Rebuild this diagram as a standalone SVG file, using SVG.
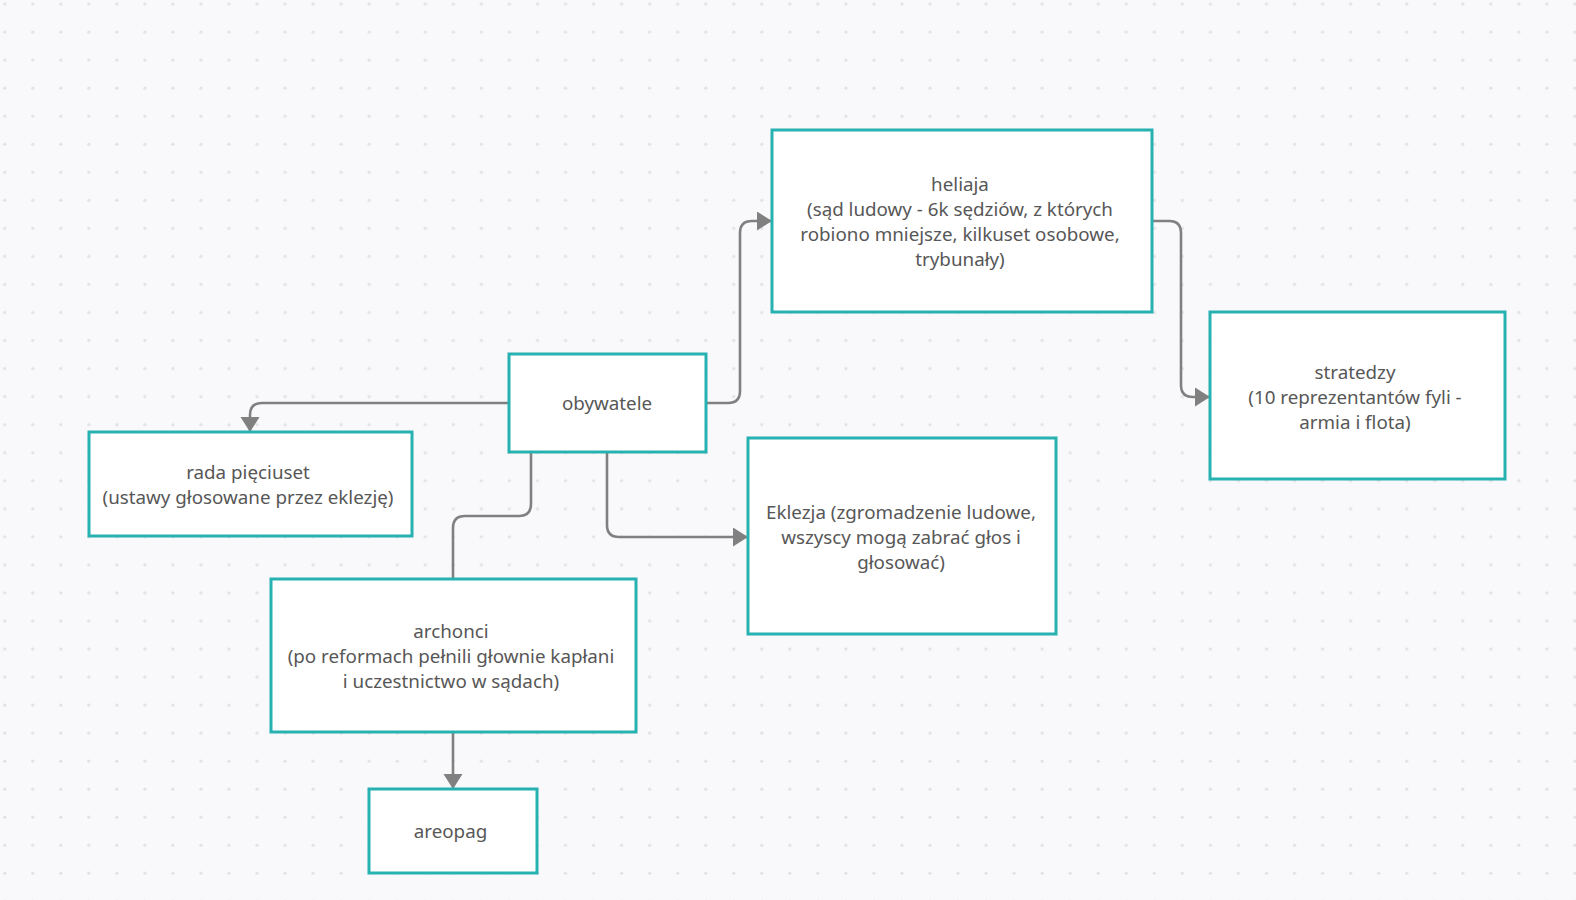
<svg xmlns="http://www.w3.org/2000/svg" width="1576" height="900" viewBox="0 0 1576 900">
<style>
.box{fill:#ffffff;stroke:#27b1b1;stroke-width:3}
.lbl{font-family:"Noto Sans","Open Sans","DejaVu Sans",sans-serif;font-size:18.8px;fill:#575757;text-anchor:middle}
.con{fill:none;stroke:#808080;stroke-width:2.6}
</style>
<defs>
<pattern id="dots" x="0" y="0" width="28.04" height="28.04" patternUnits="userSpaceOnUse">
<circle cx="4.7" cy="4" r="1.6" fill="#e1e2e7"/>
</pattern>
<marker id="arr" markerUnits="userSpaceOnUse" markerWidth="17" markerHeight="21" refX="15" refY="9.5" orient="auto">
<path d="M0,0 L15,9.5 L0,19 z" fill="#808080"/>
</marker>
</defs>
<rect width="1576" height="900" fill="#f9f9fb"/>
<rect width="1576" height="900" fill="url(#dots)"/>
<g id="connectors">
<path class="con" d="M509,403 H262 Q250,403 250,415 V432" marker-end="url(#arr)"/>
<path class="con" d="M706,403 H728 Q740,403 740,391 V233 Q740,221 752,221 H772" marker-end="url(#arr)"/>
<path class="con" d="M1152,221 H1169 Q1181,221 1181,233 V385 Q1181,397 1193,397 H1210" marker-end="url(#arr)"/>
<path class="con" d="M607,452 V525 Q607,537 619,537 H748" marker-end="url(#arr)"/>
<path class="con" d="M531,452 V504 Q531,516 519,516 H465 Q453,516 453,528 V579"/>
<path class="con" d="M453,732 V789" marker-end="url(#arr)"/>
</g>
<g id="obywatele">
<rect class="box" x="509" y="354" width="197" height="98"/>
<text class="lbl" x="607" y="410">obywatele</text>
</g>
<g id="heliaja">
<rect class="box" x="772" y="130" width="380" height="182"/>
<text class="lbl" x="960" y="191">heliaja</text>
<text class="lbl" x="960" y="216">(sąd ludowy - 6k sędziów, z których</text>
<text class="lbl" x="960" y="241">robiono mniejsze, kilkuset osobowe,</text>
<text class="lbl" x="960" y="266">trybunały)</text>
</g>
<g id="stratedzy">
<rect class="box" x="1210" y="312" width="295" height="167"/>
<text class="lbl" x="1355" y="379">stratedzy</text>
<text class="lbl" x="1355" y="404">(10 reprezentantów fyli -</text>
<text class="lbl" x="1355" y="429">armia i flota)</text>
</g>
<g id="rada">
<rect class="box" x="89" y="432" width="323" height="104"/>
<text class="lbl" x="248" y="479">rada pięciuset</text>
<text class="lbl" x="248" y="504">(ustawy głosowane przez eklezję)</text>
</g>
<g id="archonci">
<rect class="box" x="271" y="579" width="365" height="153"/>
<text class="lbl" x="451" y="638">archonci</text>
<text class="lbl" x="451" y="663">(po reformach pełnili głownie kapłani</text>
<text class="lbl" x="451" y="688">i uczestnictwo w sądach)</text>
</g>
<g id="areopag">
<rect class="box" x="369" y="789" width="168" height="84"/>
<text class="lbl" x="450.5" y="838">areopag</text>
</g>
<g id="eklezja">
<rect class="box" x="748" y="438" width="308" height="196"/>
<text class="lbl" x="901" y="519">Eklezja (zgromadzenie ludowe,</text>
<text class="lbl" x="901" y="544">wszyscy mogą zabrać głos i</text>
<text class="lbl" x="901" y="569">głosować)</text>
</g>
</svg>
